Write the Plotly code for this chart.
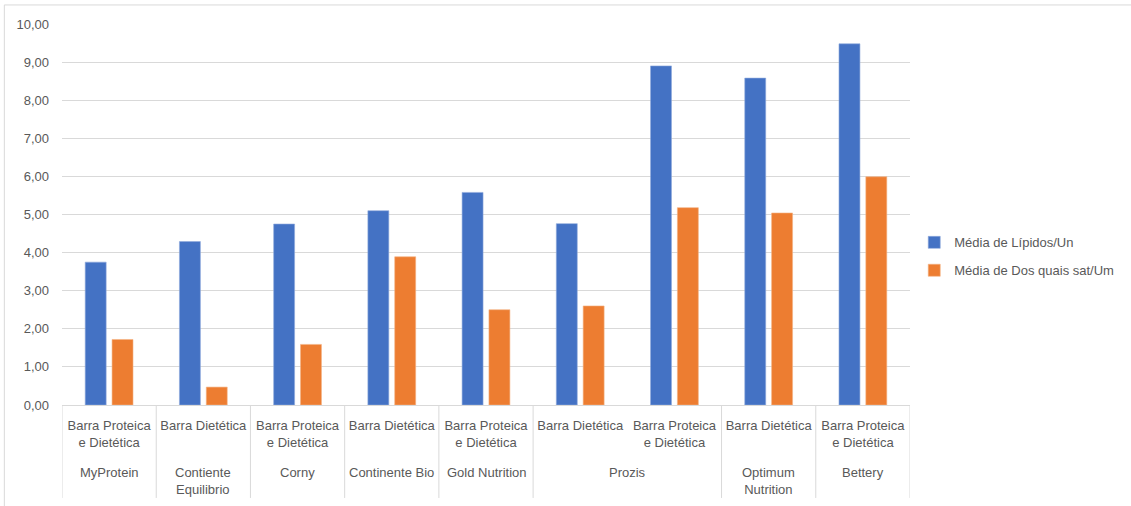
import plotly.graph_objects as go

# Brand (outer level) and product type (inner level) for each bar pair
marcas = ["MyProtein", "Contiente<br>Equilibrio", "Corny", "Continente Bio",
          "Gold Nutrition", "Prozis", "Prozis", "Optimum<br>Nutrition", "Bettery"]
tipos = ["Barra Proteica<br>e Dietética", "Barra Dietética", "Barra Proteica<br>e Dietética",
         "Barra Dietética", "Barra Proteica<br>e Dietética", "Barra Dietética",
         "Barra Proteica<br>e Dietética", "Barra Dietética", "Barra Proteica<br>e Dietética"]

lipidos = [3.75, 4.29, 4.75, 5.10, 5.58, 4.76, 8.90, 8.58, 9.48]
saturados = [1.72, 0.47, 1.59, 3.89, 2.50, 2.60, 5.18, 5.04, 5.99]

nome_lipidos = "Média de Lípidos/Un"
nome_saturados = "Média de Dos quais sat/Um"

azul = "#4472C4"
laranja = "#ED7D31"
cinza_texto = "#595959"
cinza_linha = "#D9D9D9"
font_family = "Liberation Sans, Arial, sans-serif"

# one category per bar pair (brand + type), labelled with the product type
chaves = [f"{m} | {t}" for m, t in zip(marcas, tipos)]

fig = go.Figure()
fig.add_trace(go.Bar(x=chaves, y=lipidos, name=nome_lipidos,
                     marker=dict(color=azul, line=dict(color="#8FAADC", width=0.6)),
                     legendgroup="a"))
fig.add_trace(go.Bar(x=chaves, y=saturados, name=nome_saturados,
                     marker=dict(color=laranja, line=dict(color="#F4B183", width=0.6)),
                     legendgroup="b"))

# consecutive runs of the same brand form the outer label level
grupos = []
for i, m in enumerate(marcas):
    if grupos and grupos[-1][0] == m:
        grupos[-1][2] = i
    else:
        grupos.append([m, i, i])

annotations = []
shapes = []
for nome, ini, fim in grupos:
    annotations.append(dict(x=(ini + fim) / 2, xref="x", y=-0.151, yref="paper",
                            yanchor="top", xanchor="center", showarrow=False,
                            text=nome, font=dict(size=13, color=cinza_texto)))
    shapes.append(dict(type="line", xref="x", yref="paper", x0=ini - 0.5, x1=ini - 0.5,
                       y0=0, y1=-0.244, line=dict(color=cinza_linha, width=1)))
shapes.append(dict(type="line", xref="x", yref="paper",
                   x0=len(marcas) - 0.5, x1=len(marcas) - 0.5,
                   y0=0, y1=-0.244, line=dict(color=cinza_linha, width=1)))

# light outer frame of the chart area
shapes.append(dict(type="rect", xref="paper", yref="paper",
                   x0=-0.068, x1=1.6, y0=-0.4, y1=1.05,
                   line=dict(color=cinza_linha, width=1), fillcolor="rgba(0,0,0,0)",
                   layer="below"))

fig.update_layout(
    width=1131, height=506,
    margin=dict(l=62, r=218, t=24, b=101),
    paper_bgcolor="white", plot_bgcolor="white",
    separators=",.",
    barmode="group", bargap=0.43, bargroupgap=0.22,
    font=dict(family=font_family, size=13, color=cinza_texto),
    legend=dict(x=1.005, xanchor="left", y=0.39, yanchor="middle",
                font=dict(size=13, color=cinza_texto), tracegroupgap=8,
                bgcolor="rgba(0,0,0,0)"),
    showlegend=True,
    annotations=annotations,
    shapes=shapes,
)

fig.update_yaxes(range=[0, 10], dtick=1, tickformat=".2f",
                 showgrid=True, gridcolor=cinza_linha, gridwidth=1,
                 zeroline=False, showline=False, ticks="",
                 ticklabelstandoff=12, automargin=False,
                 tickfont=dict(size=13, color=cinza_texto))

fig.update_xaxes(type="category", tickvals=chaves, ticktext=tipos,
                 range=[-0.5, len(chaves) - 0.5],
                 showline=True, linecolor=cinza_linha, linewidth=1,
                 ticks="", ticklabelstandoff=8, tickangle=0, automargin=False,
                 tickfont=dict(size=13, color=cinza_texto),
                 showgrid=False)

fig.write_html("out.html")
